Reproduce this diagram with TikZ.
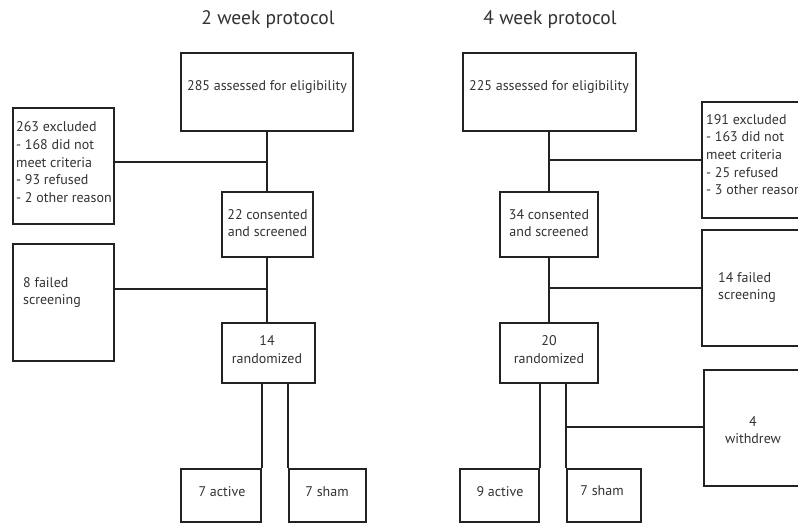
\documentclass[tikz,border=0pt]{standalone}
\usepackage{fontspec}
\setmainfont{PT Sans}
\definecolor{ink}{HTML}{222222}
\definecolor{txt}{HTML}{333333}
\begin{document}
\begin{tikzpicture}[x=1pt,y=-1pt,
  box/.style={draw=ink,line width=1.6pt,rectangle,inner sep=0pt},
  lbl/.style={text=txt,font=\fontsize{14}{17.5}\selectfont,inner sep=0pt,align=center},
  lbll/.style={text=txt,font=\fontsize{14}{17.5}\selectfont,inner sep=0pt,align=left,anchor=west},
  ttl/.style={text=txt,font=\fontsize{19.5}{22}\selectfont,inner sep=0pt},
  conn/.style={draw=ink,line width=1.6pt}]
\useasboundingbox (0,0) rectangle (798,523);
\clip (0,0) rectangle (798,523);
\fill[white] (0,0) rectangle (798,523);
% titles
\node[ttl] (t2) at (268,20) {2 week protocol};
\node[ttl] (t4) at (550,20) {4 week protocol};
% ---------- left protocol ----------
\node[box,minimum width=172pt,minimum height=78pt] (a2) at (267,92) {};
\node[box,minimum width=101pt,minimum height=116pt] (e2) at (63.5,166) {};
\node[box,minimum width=91pt,minimum height=65pt] (c2) at (267.5,224.5) {};
\node[box,minimum width=101pt,minimum height=117pt] (f2) at (63.5,302.5) {};
\node[box,minimum width=93pt,minimum height=60pt] (r2) at (268.5,353) {};
\node[box,minimum width=80pt,minimum height=53pt] (ac2) at (221,495.5) {};
\node[box,minimum width=77pt,minimum height=53pt] (sh2) at (327.5,495.5) {};
\node[lbl] at (267,87) {285 assessed for eligibility};
\node[lbll] at (16,127) {263 excluded};
\node[lbll] at (16,145) {- 168 did not};
\node[lbll] at (16,163) {meet criteria};
\node[lbll] at (16,180) {- 93 refused};
\node[lbll] at (16,198) {- 2 other reason};
\node[lbl] at (267.5,215) {22 consented};
\node[lbl] at (267.5,232) {and screened};
\node[lbll] at (23,283) {8 failed};
\node[lbll] at (23,301) {screening};
\node[lbl] at (267,341) {14};
\node[lbl] at (267,359) {randomized};
\node[lbl] at (222,492) {7 active};
\node[lbl] at (327,492) {7 sham};
\coordinate (j21) at (267,162);
\coordinate (j22) at (267,289);
\draw[conn] (a2.south -| j21) -- (c2.north -| j21);
\draw[conn] (e2.east |- j21) -- (j21);
\draw[conn] (c2.south -| j22) -- (r2.north -| j22);
\draw[conn] (f2.east |- j22) -- (j22);
\draw[conn] (r2.south -| ac2.north east) -- (ac2.north east);
\draw[conn] (r2.south -| sh2.north west) -- (sh2.north west);
% ---------- right protocol ----------
\node[box,minimum width=173pt,minimum height=78pt] (a4) at (549.5,92) {};
\node[box,minimum width=130pt,minimum height=116pt] (e4) at (767,160) {};
\node[box,minimum width=98pt,minimum height=65pt] (c4) at (549,224.5) {};
\node[box,minimum width=130pt,minimum height=116pt] (f4) at (767,288) {};
\node[box,minimum width=98pt,minimum height=60pt] (r4) at (549,353) {};
\node[box,minimum width=130pt,minimum height=116pt] (w4) at (769,428) {};
\node[box,minimum width=79pt,minimum height=53pt] (ac4) at (499.5,495.5) {};
\node[box,minimum width=74pt,minimum height=53pt] (sh4) at (604,495.5) {};
\node[lbl] at (549,87) {225 assessed for eligibility};
\node[lbll] at (706,120) {191 excluded};
\node[lbll] at (706,137) {- 163 did not};
\node[lbll] at (706,155) {meet criteria};
\node[lbll] at (706,173) {- 25 refused};
\node[lbll] at (706,190) {- 3 other reason};
\node[lbl] at (549,215) {34 consented};
\node[lbl] at (549,232) {and screened};
\node[lbll] at (718,278) {14 failed};
\node[lbll] at (718,296) {screening};
\node[lbl] at (549,341) {20};
\node[lbl] at (549,359) {randomized};
\node[lbl] at (753,422) {4};
\node[lbl] at (753,439) {withdrew};
\node[lbl] at (500,492) {9 active};
\node[lbl] at (602,491) {7 sham};
\coordinate (j41) at (549,160);
\coordinate (j42) at (549,288);
\coordinate (j43) at (567,427);
\draw[conn] (a4.south -| j41) -- (c4.north -| j41);
\draw[conn] (j41) -- (e4.west |- j41);
\draw[conn] (c4.south -| j42) -- (r4.north -| j42);
\draw[conn] (j42) -- (f4.west |- j42);
\draw[conn] (r4.south -| ac4.north east) -- (ac4.north east);
\draw[conn] (r4.south -| sh4.north west) -- (sh4.north west);
\draw[conn] (j43) -- (w4.west |- j43);
\end{tikzpicture}
\end{document}
